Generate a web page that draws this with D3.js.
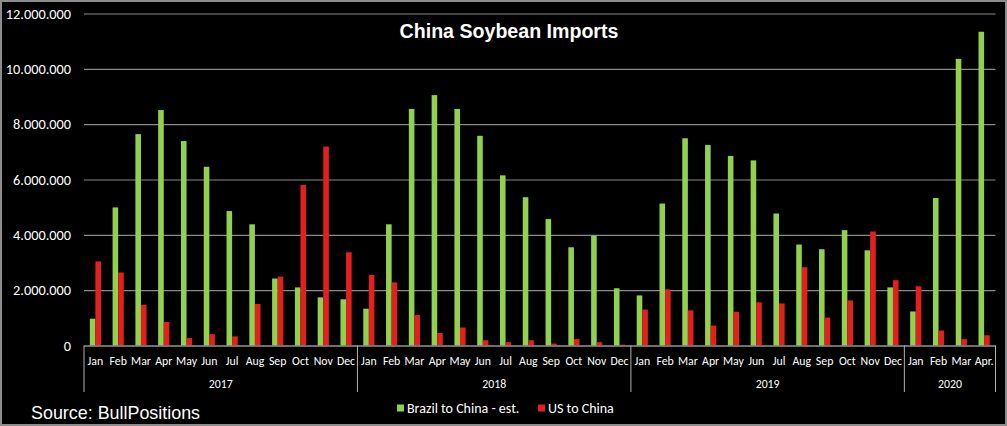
<!DOCTYPE html>
<html>
<head>
<meta charset="utf-8">
<script src="https://cdn.jsdelivr.net/npm/d3@7"></script>
<style>
  html, body { margin: 0; padding: 0; background: #000; }
  svg { display: block; }
</style>
</head>
<body>
<svg id="chart" width="1007" height="426"></svg>
<script>
// ---- data ----
const months = [
  "Jan","Feb","Mar","Apr","May","Jun","Jul","Aug","Sep","Oct","Nov","Dec",
  "Jan","Feb","Mar","Apr","May","Jun","Jul","Aug","Sep","Oct","Nov","Dec",
  "Jan","Feb","Mar","Apr","May","Jun","Jul","Aug","Sep","Oct","Nov","Dec",
  "Jan","Feb","Mar","Apr."
];
const years = ["2017", "2018", "2019", "2020"];
const yearMonthCounts = [12, 12, 12, 4];
const brazil = [
  970000, 4990000, 7640000, 8510000, 7390000, 6460000, 4860000, 4380000, 2420000, 2100000, 1740000, 1670000,
  1330000, 4380000, 8550000, 9050000, 8550000, 7580000, 6150000, 5360000, 4570000, 3550000, 3970000, 2070000,
  1810000, 5130000, 7490000, 7250000, 6850000, 6690000, 4770000, 3650000, 3480000, 4170000, 3440000, 2100000,
  1230000, 5330000, 10360000, 11340000
];
const us = [
  3040000, 2640000, 1470000, 850000, 270000, 410000, 330000, 1500000, 2490000, 5800000, 7190000, 3370000,
  2550000, 2280000, 1100000, 450000, 650000, 190000, 120000, 190000, 70000, 230000, 120000, 30000,
  1300000, 2030000, 1270000, 720000, 1220000, 1560000, 1520000, 2830000, 1010000, 1630000, 4120000, 2360000,
  2140000, 540000, 230000, 370000
];
const yTicks = [0, 2000000, 4000000, 6000000, 8000000, 10000000, 12000000];
const seriesNames = ["Brazil to China - est.", "US to China"];
const seriesColors = ["#92d050", "#e3201d"];
const titleText = "China Soybean Imports";
const sourceText = "Source: BullPositions";

(function () {
// ---- layout ----
const svg = d3.select("#chart");
const W = 1007, H = 426;
const pLeft = 84, pRight = 995.5, pTop = 13.5, pBottom = 345.5;
const labelFont = "Carlito, Calibri, Lato, 'Liberation Sans', sans-serif";

svg.append("rect").attr("x", 1).attr("y", 1).attr("width", W - 2).attr("height", H - 2)
  .attr("fill", "#000").attr("stroke", "#8c8c8c").attr("stroke-width", 2);

const x = d3.scaleBand().domain(d3.range(months.length)).range([pLeft, pRight]).paddingInner(0).paddingOuter(0);
const y = d3.scaleLinear().domain([0, 12000000]).range([pBottom, pTop]);

const locale = d3.formatLocale({ decimal: ",", thousands: ".", grouping: [3], currency: ["", ""] });
const fmt = locale.format(",d");

// gridlines + y labels via axis
const yAxis = d3.axisLeft(y).tickValues(yTicks).tickFormat(fmt).tickSize(-(pRight - pLeft)).tickPadding(13);
const gy = svg.append("g").attr("transform", `translate(${pLeft},0)`).call(yAxis);
gy.select(".domain").remove();
gy.selectAll(".tick line").attr("stroke", "#8a8a8a").attr("stroke-width", 1.2);
gy.selectAll(".tick text").attr("fill", "#ffffff").attr("font-family", labelFont)
  .attr("font-size", 14.3).attr("x", -13);

// bars
const bw = x.bandwidth() * 0.245;
const gBars = svg.append("g");
gBars.selectAll("rect.br").data(brazil).join("rect").attr("class", "br")
  .attr("x", (d, i) => x(i) + x.bandwidth() / 2 - bw)
  .attr("y", d => y(d)).attr("width", bw).attr("height", d => y(0) - y(d))
  .attr("fill", seriesColors[0]);
gBars.selectAll("rect.us").data(us).join("rect").attr("class", "us")
  .attr("x", (d, i) => x(i) + x.bandwidth() / 2)
  .attr("y", d => y(d)).attr("width", bw).attr("height", d => y(0) - y(d))
  .attr("fill", seriesColors[1]);

// category axis
const xAxis = d3.axisBottom(x).tickFormat(i => months[i]).tickSize(0).tickPadding(11);
const gx = svg.append("g").attr("transform", `translate(0,${pBottom})`).call(xAxis);
gx.select(".domain").attr("stroke", "#9a9a9a").attr("stroke-width", 1.2);
gx.selectAll(".tick text").attr("fill", "#ffffff").attr("font-family", labelFont).attr("font-size", 11.8);

// year groups
let acc = 0;
const bounds = [0];
yearMonthCounts.forEach(c => { acc += c; bounds.push(acc); });
const xEdge = i => (i >= months.length ? pRight : x(i));
svg.append("g").selectAll("line").data(bounds).join("line")
  .attr("x1", d => xEdge(d)).attr("x2", d => xEdge(d))
  .attr("y1", pBottom).attr("y2", 392)
  .attr("stroke", "#b0b0b0").attr("stroke-width", 1);
svg.append("g").selectAll("text").data(years).join("text")
  .attr("x", (d, i) => (xEdge(bounds[i]) + xEdge(bounds[i + 1])) / 2)
  .attr("y", 387.5).attr("text-anchor", "middle")
  .attr("fill", "#ffffff").attr("font-family", labelFont).attr("font-size", 11.8)
  .text(d => d);

// title
svg.append("text").attr("x", 509).attr("y", 37.5).attr("text-anchor", "middle")
  .attr("fill", "#ffffff").attr("font-family", "Arial, 'Liberation Sans', sans-serif")
  .attr("font-weight", "bold").attr("font-size", 19.6).text(titleText);

// legend
const legendX = [397, 538];
const lg = svg.append("g");
seriesNames.forEach((name, i) => {
  lg.append("rect").attr("x", legendX[i]).attr("y", 404.5).attr("width", 7).attr("height", 7)
    .attr("fill", seriesColors[i]);
  lg.append("text").attr("x", legendX[i] + 10).attr("y", 413)
    .attr("fill", "#ffffff").attr("font-family", labelFont).attr("font-size", 14).text(name);
});

// source
svg.append("text").attr("x", 31).attr("y", 418.5)
  .attr("fill", "#ffffff").attr("font-family", "Arial, 'Liberation Sans', sans-serif")
  .attr("font-size", 17.9).text(sourceText);
})();
</script>
</body>
</html>
